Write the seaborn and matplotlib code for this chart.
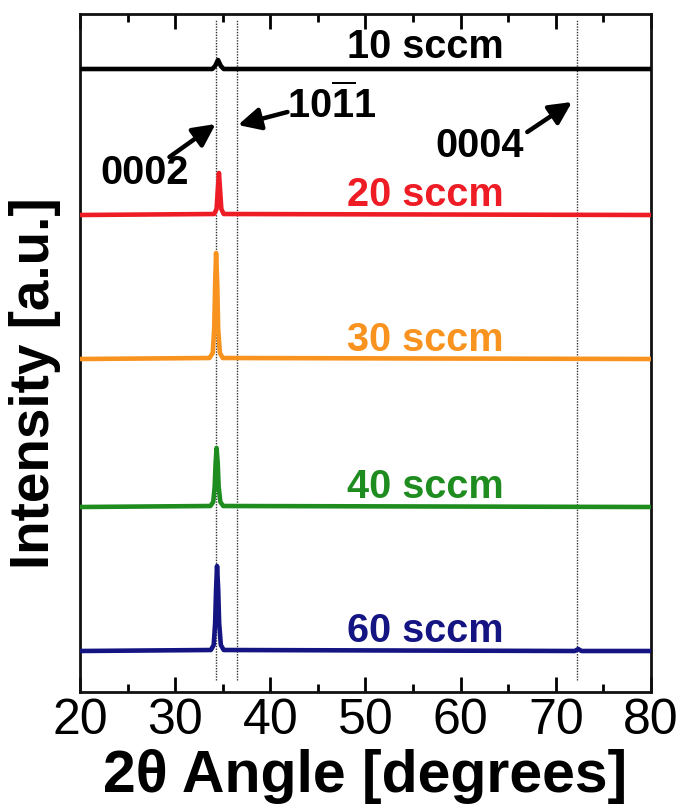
import numpy as np
import pandas as pd
import matplotlib
matplotlib.use("Agg")
import matplotlib.pyplot as plt
import seaborn as sns

# --- XRD traces (2theta in degrees, intensity above each baseline in a.u.) ---
flows = ["10 sccm", "20 sccm", "30 sccm", "40 sccm", "60 sccm"]
colors = ["#000000", "#ee1c24", "#f7931e", "#1e8c1e", "#141482"]
baselines = [623, 477, 333, 185, 41]

theta_10 = [20, 33.9, 34.2, 34.5, 34.8, 35.1, 80]
inten_10 = [0, 0, 3, 9, 3, 0, 0]

theta_20 = [20, 34.1, 34.35, 34.48, 34.6, 34.72, 34.85, 35.1, 80]
inten_20 = [0, 1, 6, 25, 42, 25, 6, 1, 0]

theta_30 = [20, 33.6, 33.95, 34.1, 34.2, 34.3, 34.42, 34.52, 34.7, 35.0, 80]
inten_30 = [0, 1, 6, 30, 75, 106, 75, 30, 6, 1, 0]

theta_40 = [20, 33.7, 34.0, 34.15, 34.25, 34.35, 34.47, 34.57, 34.75, 35.05, 80]
inten_40 = [0, 1, 5, 20, 44, 59, 44, 20, 5, 1, 0]

theta_60 = [20, 33.75, 34.05, 34.2, 34.3, 34.4, 34.52, 34.62, 34.8, 35.1, 72.0, 72.35, 72.7, 80]
inten_60 = [0, 1, 6, 28, 62, 85, 62, 28, 6, 1, 0, 2, 0, 0]

thetas = [theta_10, theta_20, theta_30, theta_40, theta_60]
intens = [inten_10, inten_20, inten_30, inten_40, inten_60]

# reflection positions (dotted guides) and their labels
ref_pos = [34.3, 36.5, 72.2]
ref_labels = ["0002", r"$\mathbf{10\overline{1}1}$", "0004"]
ref_text_xy = [(26.8, 519), (46.4, 587), (62.0, 546)]
ref_arrow_tail = [(29.4, 535), (41.8, 580), (67.0, 560)]
ref_arrow_tip = [(34.25, 568), (36.6, 567), (71.7, 590)]

frames = []
for name, th, it, b in zip(flows, thetas, intens, baselines):
    frames.append(pd.DataFrame({"theta": th,
                                "intensity": np.asarray(it, float) + b,
                                "flow": name}))
df = pd.concat(frames, ignore_index=True)

sns.set_style("white")
plt.rcParams["font.family"] = ["Liberation Sans", "DejaVu Sans"]
plt.rcParams["text.color"] = "black"
plt.rcParams["xtick.color"] = "black"
plt.rcParams["xtick.labelcolor"] = "black"
plt.rcParams["mathtext.fontset"] = "custom"
plt.rcParams["mathtext.bf"] = "Liberation Sans:bold"
plt.rcParams["mathtext.rm"] = "Liberation Sans"

fig = plt.figure(figsize=(6.81, 8.11), dpi=100)
ax = fig.add_axes([80 / 681, 1 - 692 / 811, 571 / 681, 678 / 811])

for xv in ref_pos:
    ax.plot([xv, xv], [12, 672], color="#333333", lw=1.0, ls=(0, (1, 1)), zorder=1)

sns.lineplot(data=df, x="theta", y="intensity", hue="flow", palette=colors,
             estimator=None, sort=False, legend=False, lw=3.3, ax=ax, zorder=3)
for line in ax.lines:
    line.set_solid_joinstyle("round")

label_y = [645, 497, 352, 205, 61]
for name, c, yv in zip(flows, colors, label_y):
    ax.text(56.3, yv, name, color=c, fontsize=28.5, fontweight="bold",
            ha="center", va="center", zorder=4)

for lab, txy, tail, tip in zip(ref_labels, ref_text_xy, ref_arrow_tail, ref_arrow_tip):
    ax.text(txy[0], txy[1], lab, fontsize=28.5, fontweight="bold",
            ha="center", va="center", color="k")
    ax.annotate("", xy=tip, xytext=tail,
                arrowprops=dict(arrowstyle="-|>,head_length=0.9,head_width=0.45",
                                mutation_scale=15, lw=3.2, color="k",
                                shrinkA=0, shrinkB=0))

ax.set_xlim(20, 80)
ax.set_ylim(0, 678)
ax.set_xticks(np.arange(20, 81, 10))
ax.set_xticks(np.arange(25, 80, 10), minor=True)
ax.set_yticks([])
ax.tick_params(axis="x", which="both", direction="in", top=True, bottom=True,
               width=2.0, labelsize=36, pad=4, colors="black")
ax.tick_params(axis="x", which="major", length=11)
ax.tick_params(axis="x", which="minor", length=6)
for sp in ax.spines.values():
    sp.set_linewidth(2.0)
    sp.set_color("#111111")
ax.set_xlabel("")
ax.set_ylabel("")

fig.text(365 / 681, 1 - 776 / 811, "2θ Angle [degrees]", fontsize=42.5,
         fontweight="bold", ha="center", va="center", color="black")
fig.text(35 / 681, 1 - 383 / 811, "Intensity [a.u.]", fontsize=39.5,
         fontweight="bold", ha="center", va="center", rotation=90, color="black")

fig.savefig("out.png", dpi=100)
